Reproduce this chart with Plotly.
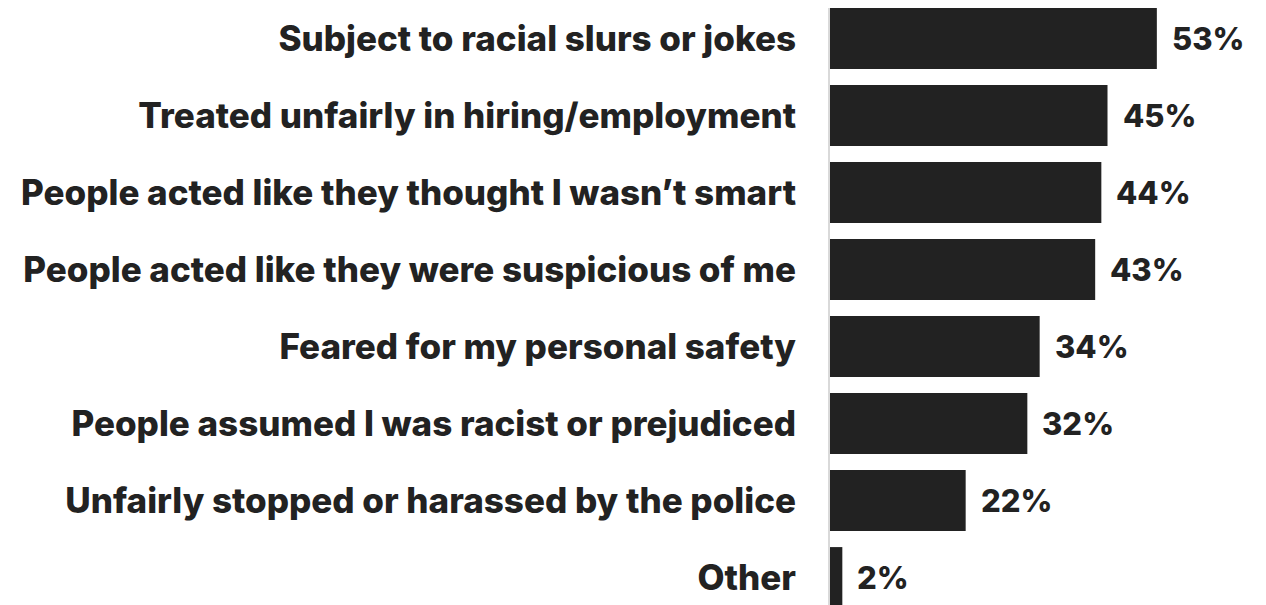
import plotly.graph_objects as go

categories = [
    "Subject to racial slurs or jokes",
    "Treated unfairly in hiring/employment",
    "People acted like they thought I wasn\u2019t smart",
    "People acted like they were suspicious of me",
    "Feared for my personal safety",
    "People assumed I was racist or prejudiced",
    "Unfairly stopped or harassed by the police",
    "Other",
]
values = [53, 45, 44, 43, 34, 32, 22, 2]
value_labels = [f"{v}%" for v in values]

INK = "#222222"
FONT = "Inter"

fig = go.Figure(
    go.Bar(
        x=values,
        y=categories,
        orientation="h",
        marker=dict(color=INK, line=dict(width=0)),
        width=0.79,
        hoverinfo="skip",
    )
)

for cat, v, lab in zip(categories, values, value_labels):
    fig.add_annotation(
        x=v, y=cat, text=lab, showarrow=False,
        xanchor="left", yanchor="middle", xshift=13,
        font=dict(family=FONT, size=31, color=INK, weight=800),
    )

fig.update_layout(
    width=1258, height=597,
    margin=dict(l=822, r=0, t=0, b=0),
    paper_bgcolor="white", plot_bgcolor="white",
    showlegend=False,
    font=dict(family=FONT, color=INK),
)
fig.update_xaxes(
    range=[0, 70.7], visible=False, showgrid=False, zeroline=False,
)
fig.update_yaxes(
    categoryorder="array", categoryarray=categories,
    range=[7.357, -0.396],
    showgrid=False, zeroline=False,
    showline=True, linecolor="#d9d9d9", linewidth=2,
    ticks="", ticklabelstandoff=25,
    tickfont=dict(family=FONT, size=35, color=INK, weight=800),
)

fig.write_html("out.html")
